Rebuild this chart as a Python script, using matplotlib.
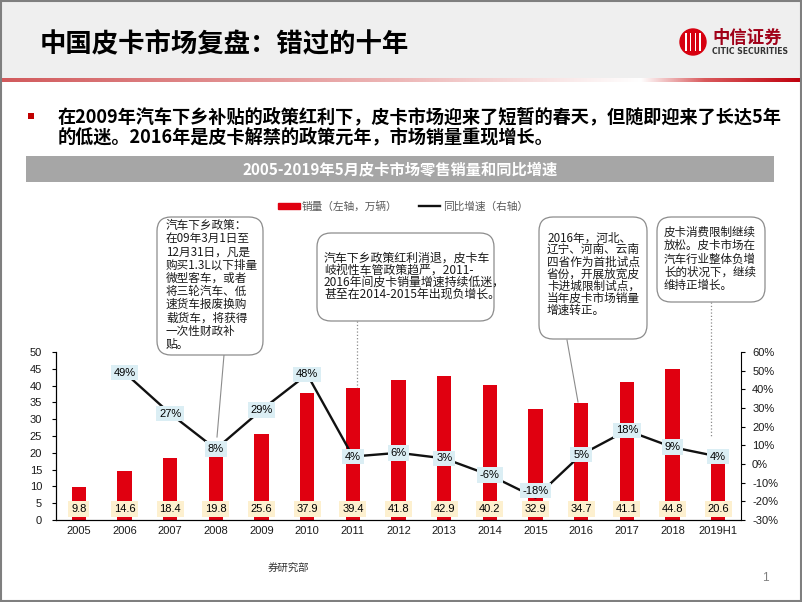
import numpy as np
import matplotlib.pyplot as plt
from matplotlib.patches import Rectangle, FancyBboxPatch, Patch, Circle
from matplotlib.lines import Line2D
from matplotlib.ticker import PercentFormatter

plt.rcParams['axes.unicode_minus'] = False
CJK = ['Noto Sans CJK SC', 'DejaVu Sans']
NUM = ['Liberation Sans', 'DejaVu Sans']

# dane
years = ['2005', '2006', '2007', '2008', '2009', '2010', '2011', '2012',
         '2013', '2014', '2015', '2016', '2017', '2018', '2019H1']
sales = [9.8, 14.6, 18.4, 19.8, 25.6, 37.9, 39.4, 41.8, 42.9, 40.2, 32.9, 34.7, 41.1, 44.8, 20.6]
growth_years = years[1:]
growth = [49, 27, 8, 29, 48, 4, 6, 3, -6, -18, 5, 18, 9, 4]

title = '中国皮卡市场复盘：错过的十年'
bullet = ['在2009年汽车下乡补贴的政策红利下，皮卡市场迎来了短暂的春天，但随即迎来了长达5年',
          '的低迷。2016年是皮卡解禁的政策元年，市场销量重现增长。']
chart_title = '2005-2019年5月皮卡市场零售销量和同比增速'

notes = [
    ['汽车下乡政策：', '在09年3月1日至', '12月31日，凡是', '购买1.3L以下排量', '微型客车，或者',
     '将三轮汽车、低', '速货车报废换购', '载货车，将获得', '一次性财政补', '贴。'],
    ['汽车下乡政策红利消退，皮卡车', '岐视性车管政策趋严，2011-',
     '2016年间皮卡销量增速持续低迷，', '甚至在2014-2015年出现负增长。'],
    ['2016年，河北、', '辽宁、河南、云南', '四省作为首批试点', '省份，开展放宽皮',
     '卡进城限制试点，', '当年皮卡市场销量', '增速转正。'],
    ['皮卡消费限制继续', '放松。皮卡市场在', '汽车行业整体负增', '长的状况下，继续', '维持正增长。'],
]

fig = plt.figure(figsize=(8.02, 6.02), dpi=100)

# tlo slajdu w pikselach
bg = fig.add_axes([0, 0, 1, 1], zorder=0)
bg.axis('off')

bg.add_patch(Rectangle((0, 0), 802, 78, color='#efefef', lw=0))
grad = np.linspace(0, 1, 400)
r = np.interp(grad, [0, 0.5, 0.8, 0.88, 1], [0.82, 0.93, 1.0, 0.85, 0.75])
g = np.interp(grad, [0, 0.5, 0.8, 0.88, 1], [0.35, 0.72, 1.0, 0.35, 0.0])
b = np.interp(grad, [0, 0.5, 0.8, 0.88, 1], [0.36, 0.72, 1.0, 0.36, 0.05])
bg.imshow(np.dstack([r, g, b]), extent=(0, 802, 82, 78), aspect='auto')
bg.add_patch(Rectangle((0.7, 0.7), 800.6, 600.6, fill=False, ec='#7f7f7f', lw=1.5))

bg.text(40, 45, title, family=CJK, fontsize=19, fontweight='bold', va='center', ha='left')

# logo
bg.add_patch(Circle((693, 42), 13, color='#d7000f'))
for xx in [686, 690.5, 695.5, 700]:
    bg.add_patch(Rectangle((xx - 0.8, 33), 1.6, 18, color='white', lw=0))
bg.text(712, 38, '中信证券', family=CJK, fontsize=12.5, fontweight='bold', color='#a00018', va='center')
bg.text(712, 51.5, 'CITIC SECURITIES', family=['Liberation Sans Narrow', 'DejaVu Sans'],
        fontsize=5.6, fontweight='bold', color='#333333', va='center')

# punkt i tekst
bg.add_patch(Rectangle((28, 113), 6, 6, color='#c00000', lw=0))
bg.text(58, 127, '\n'.join(bullet), family=CJK, fontsize=13.1, fontweight='bold',
        va='center', linespacing=1.05)

bg.add_patch(Rectangle((26, 156), 748, 26, color='#a6a6a6', lw=0))
bg.text(400, 169, chart_title, family=CJK, fontsize=11, fontweight='bold', color='white',
        ha='center', va='center')

# ramki z komentarzami: (x0, y0, x1, y1, tekst x, srodek tekstu y, interlinia, rozmiar)
boxes = [(157, 217, 263, 355, 166, 285, 1.02, 8.4),
         (317, 233, 494, 321, 324, 276, 0.91, 8.6),
         (539, 217, 647, 339, 547, 274, 0.91, 8.4),
         (657, 217, 765, 302, 664, 259, 1.02, 8.3)]
for (x0, y0, x1, y1, tx, ty, ls, fs), lines in zip(boxes, notes):
    bg.add_patch(FancyBboxPatch((x0, y0), x1 - x0, y1 - y0, boxstyle='round,pad=0,rounding_size=14',
                                fc='white', ec='#8c8c8c', lw=0.9, zorder=3))
    bg.text(tx, ty, '\n'.join(lines), family=CJK, fontsize=fs, va='center', ha='left',
            linespacing=ls, color='#1a1a1a', zorder=4)

bg.plot([224, 217], [355, 437], color='#8c8c8c', lw=0.8)
bg.plot([357, 357], [321, 388], color='#8c8c8c', lw=0.9, ls=':')
bg.plot([567, 578], [340, 402], color='#8c8c8c', lw=0.8)
bg.plot([711, 711], [302, 437], color='#8c8c8c', lw=0.9, ls=':')

bg.text(288, 569, '券研究部', family=CJK, fontsize=7.5, color='#333333', ha='center', va='center')
bg.text(765, 578, '1', family=NUM, fontsize=8.5, color='#7f7f7f', ha='center', va='center')
bg.set_xlim(0, 802)
bg.set_ylim(602, 0)

# wykres
ax = fig.add_axes([56 / 802, 1 - 520 / 602, 685 / 802, 168 / 602], zorder=1)
ax.patch.set_visible(False)
x = np.arange(len(years))
ax.bar(x, sales, width=0.31, color='#e00010', zorder=2)
for i, v in enumerate(sales):
    ax.text(i, 3.3, f'{v:.1f}', family=NUM, fontsize=8, ha='center', va='center', zorder=3,
            bbox=dict(boxstyle='square,pad=0.25', fc='#fdf0cf', ec='none'))
ax.set_xlim(-0.5, len(years) - 0.5)
ax.set_ylim(0, 50)
ax.set_yticks(range(0, 51, 5))
ax.set_xticks(x)
ax.set_xticklabels(years)
ax.tick_params(axis='x', length=0, pad=4)
ax.tick_params(axis='y', length=3, direction='out', pad=7)
for lab in ax.get_xticklabels() + ax.get_yticklabels():
    lab.set_family(NUM)
    lab.set_fontsize(8)
    lab.set_color('#1a1a1a')
ax.spines['top'].set_visible(False)
ax.spines['right'].set_visible(False)

ax2 = ax.twinx()
ax2.set_zorder(2)
ax2.patch.set_visible(False)
gx = np.arange(1, len(years))
ax2.plot(gx, growth, color='#111111', lw=1.7, zorder=2)
for i, v in zip(gx, growth):
    dy = 5 if v < -10 else 0  # etykieta -18% lekko wyzej, jak na oryginale
    ax2.annotate(f'{v}%', (i, v), xytext=(0, dy), textcoords='offset points',
                 family=NUM, fontsize=8, ha='center', va='center', zorder=3,
                 bbox=dict(boxstyle='square,pad=0.25', fc='#dbeef4', ec='none'))
ax2.set_ylim(-30, 60)
ax2.set_yticks(range(-30, 61, 10))
ax2.yaxis.set_major_formatter(PercentFormatter(decimals=0))
ax2.tick_params(axis='y', length=3, direction='out', pad=5)
for lab in ax2.get_yticklabels():
    lab.set_family(NUM)
    lab.set_fontsize(8)
    lab.set_color('#1a1a1a')
ax2.spines['top'].set_visible(False)

handles = [Patch(color='#e00010'), Line2D([], [], color='#111111', lw=1.7)]
fig.legend(handles, ['销量（左轴，万辆）', '同比增速（右轴）'], loc='center', ncol=2,
           bbox_to_anchor=(403 / 802, 1 - 206 / 602), frameon=False,
           prop={'family': CJK, 'size': 7.7}, labelcolor='#595959',
           handlelength=2.0, handleheight=0.5, handletextpad=0.2, columnspacing=2.0)

fig.savefig('out.png', dpi=100)
